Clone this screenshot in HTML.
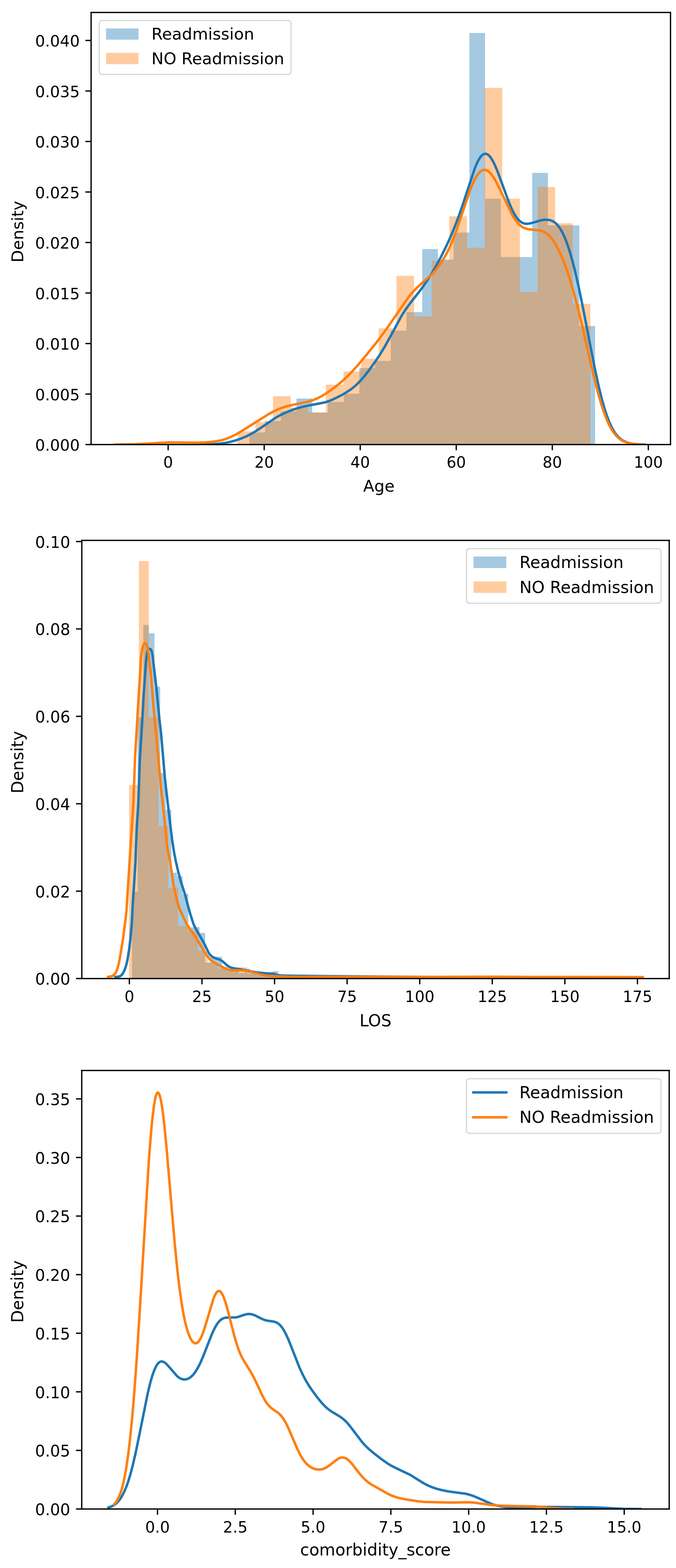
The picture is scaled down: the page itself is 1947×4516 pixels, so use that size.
<!DOCTYPE html>
<html><head><meta charset="utf-8"><title>Readmission distributions</title>
<style>html,body{margin:0;padding:0;background:#fff;overflow:hidden;width:1947px;height:4516px;}#page{position:relative;width:1947px;height:4516px;overflow:hidden;background:#fff;}#page svg{position:absolute;left:0;display:block;}#page svg *{stroke-linejoin:round;stroke-linecap:butt;}text{font-family:"DejaVu Sans","Liberation Sans",sans-serif;}</style></head><body><div id="page">
<svg style="top:0px" width="1947" height="1480" viewBox="0 0 416.65775 316.71981" version="1.1">
<defs>
</defs>
<g id="f1_figure_1">
<g id="f1_patch_1">
<path d="M 0 316.71981 
L 416.65775 316.71981 
L 416.65775 0 
L 0 0 
z
" style="fill: #ffffff"/>
</g>
<g id="f1_axes_1">
<g id="f1_patch_2">
<path d="M 56.153566 274.005436 
L 413.276552 274.005436 
L 413.276552 7.661195 
L 56.153566 7.661195 
z
" style="fill: #ffffff"/>
</g>
<g id="f1_patch_3">
<path d="M 153.694708 274.005436 
L 153.694708 266.53684 
L 163.380147 266.53684 
L 163.380147 259.453444 
L 173.065587 259.453444 
L 173.065587 253.547048 
L 182.751027 253.547048 
L 182.751027 245.607653 
L 192.436466 245.607653 
L 192.436466 254.231847 
L 202.121906 254.231847 
L 202.121906 247.726251 
L 211.807346 247.726251 
L 211.807346 242.697254 
L 221.492785 242.697254 
L 221.492785 226.839864 
L 231.178225 226.839864 
L 231.178225 222.431467 
L 240.863665 222.431467 
L 240.863665 203.792078 
L 250.549104 203.792078 
L 250.549104 192.385885 
L 260.234544 192.385885 
L 260.234544 153.480708 
L 269.919984 153.480708 
L 269.919984 159.964904 
L 279.605423 159.964904 
L 279.605423 143.337114 
L 289.290863 143.337114 
L 289.290863 20.308588 
L 298.976302 20.308588 
L 298.976302 122.450727 
L 308.661742 122.450727 
L 308.661742 158.424105 
L 318.347182 158.424105 
L 318.347182 158.424105 
L 328.032621 158.424105 
L 328.032621 106.571936 
L 337.718061 106.571936 
L 337.718061 138.907317 
L 347.403501 138.907317 
L 347.403501 138.907317 
L 357.08894 138.907317 
L 357.08894 200.945879 
L 366.77438 200.945879 
L 366.77438 274.005436 
z
" clip-path="url(#f1_p263602e1d2)" style="fill: #1f77b4; opacity: 0.4"/>
</g>
<g id="f1_patch_4">
<path d="M 146.525712 274.005436 
L 146.525712 265.830641 
L 157.393696 265.830641 
L 157.393696 260.031244 
L 168.261679 260.031244 
L 168.261679 244.195253 
L 179.129663 244.195253 
L 179.129663 251.235849 
L 189.997646 251.235849 
L 189.997646 254.231847 
L 200.865629 254.231847 
L 200.865629 237.069058 
L 211.733613 237.069058 
L 211.733613 228.979863 
L 222.601596 228.979863 
L 222.601596 221.126067 
L 233.46958 221.126067 
L 233.46958 202.401079 
L 244.337563 202.401079 
L 244.337563 170.044298 
L 255.205547 170.044298 
L 255.205547 195.082283 
L 266.07353 195.082283 
L 266.07353 160.649704 
L 276.941514 160.649704 
L 276.941514 133.30052 
L 287.809497 133.30052 
L 287.809497 152.688908 
L 298.677481 152.688908 
L 298.677481 54.141968 
L 309.545464 54.141968 
L 309.545464 122.450727 
L 320.413448 122.450727 
L 320.413448 179.973892 
L 331.281431 179.973892 
L 331.281431 115.260331 
L 342.149415 115.260331 
L 342.149415 137.601917 
L 353.017398 137.601917 
L 353.017398 187.249888 
L 363.885382 187.249888 
L 363.885382 274.005436 
z
" clip-path="url(#f1_p263602e1d2)" style="fill: #ff7f0e; opacity: 0.4"/>
</g>
<g id="f1_matplotlib.axis_1">
<g id="f1_xtick_1">
<g id="f1_line2d_1">
<defs>
<path id="f1_m1504cfccaf" d="M 0 0 
L 0 3.5 
" style="stroke: #000000; stroke-width: 0.8"/>
</defs>
<g>
<use href="#f1_m1504cfccaf" x="103.640138" y="274.005436" style="stroke: #000000; stroke-width: 0.8"/>
</g>
</g>
<g id="f1_text_1">
<text style="font-size: 9.40px; font-family: 'DejaVu Sans', 'Liberation Sans', sans-serif; text-anchor: middle" x="103.6401" y="288.2829">0</text>
</g>
</g>
<g id="f1_xtick_2">
<g id="f1_line2d_2">
<g>
<use href="#f1_m1504cfccaf" x="162.832502" y="274.005436" style="stroke: #000000; stroke-width: 0.8"/>
</g>
</g>
<g id="f1_text_2">
<text style="font-size: 9.40px; font-family: 'DejaVu Sans', 'Liberation Sans', sans-serif; text-anchor: middle" x="162.8325" y="288.2829">20</text>
</g>
</g>
<g id="f1_xtick_3">
<g id="f1_line2d_3">
<g>
<use href="#f1_m1504cfccaf" x="222.024867" y="274.005436" style="stroke: #000000; stroke-width: 0.8"/>
</g>
</g>
<g id="f1_text_3">
<text style="font-size: 9.40px; font-family: 'DejaVu Sans', 'Liberation Sans', sans-serif; text-anchor: middle" x="222.0249" y="288.2829">40</text>
</g>
</g>
<g id="f1_xtick_4">
<g id="f1_line2d_4">
<g>
<use href="#f1_m1504cfccaf" x="281.217231" y="274.005436" style="stroke: #000000; stroke-width: 0.8"/>
</g>
</g>
<g id="f1_text_4">
<text style="font-size: 9.40px; font-family: 'DejaVu Sans', 'Liberation Sans', sans-serif; text-anchor: middle" x="281.2172" y="288.2829">60</text>
</g>
</g>
<g id="f1_xtick_5">
<g id="f1_line2d_5">
<g>
<use href="#f1_m1504cfccaf" x="340.409596" y="274.005436" style="stroke: #000000; stroke-width: 0.8"/>
</g>
</g>
<g id="f1_text_5">
<text style="font-size: 9.40px; font-family: 'DejaVu Sans', 'Liberation Sans', sans-serif; text-anchor: middle" x="340.4096" y="288.2829">80</text>
</g>
</g>
<g id="f1_xtick_6">
<g id="f1_line2d_6">
<g>
<use href="#f1_m1504cfccaf" x="399.60196" y="274.005436" style="stroke: #000000; stroke-width: 0.8"/>
</g>
</g>
<g id="f1_text_6">
<text style="font-size: 9.40px; font-family: 'DejaVu Sans', 'Liberation Sans', sans-serif; text-anchor: middle" x="399.6020" y="288.2829">100</text>
</g>
</g>
<g id="f1_text_7">
<text style="font-size: 10px; font-family: 'DejaVu Sans', 'Liberation Sans', sans-serif; text-anchor: middle" x="233.5381" y="302.9882" transform="rotate(-0 233.5381 302.9882)">Age</text>
</g>
</g>
<g id="f1_matplotlib.axis_2">
<g id="f1_ytick_1">
<g id="f1_line2d_7">
<defs>
<path id="f1_m5d545ce8f8" d="M 0 0 
L -3.5 0 
" style="stroke: #000000; stroke-width: 0.8"/>
</defs>
<g>
<use href="#f1_m5d545ce8f8" x="56.153566" y="274.005436" style="stroke: #000000; stroke-width: 0.8"/>
</g>
</g>
<g id="f1_text_8">
<text style="font-size: 9.60px; font-family: 'DejaVu Sans', 'Liberation Sans', sans-serif; text-anchor: end" x="49.1536" y="277.8047">0.000</text>
</g>
</g>
<g id="f1_ytick_2">
<g id="f1_line2d_8">
<g>
<use href="#f1_m5d545ce8f8" x="56.153566" y="242.872467" style="stroke: #000000; stroke-width: 0.8"/>
</g>
</g>
<g id="f1_text_9">
<text style="font-size: 9.60px; font-family: 'DejaVu Sans', 'Liberation Sans', sans-serif; text-anchor: end" x="49.1536" y="246.6717">0.005</text>
</g>
</g>
<g id="f1_ytick_3">
<g id="f1_line2d_9">
<g>
<use href="#f1_m5d545ce8f8" x="56.153566" y="211.739498" style="stroke: #000000; stroke-width: 0.8"/>
</g>
</g>
<g id="f1_text_10">
<text style="font-size: 9.60px; font-family: 'DejaVu Sans', 'Liberation Sans', sans-serif; text-anchor: end" x="49.1536" y="215.5387">0.010</text>
</g>
</g>
<g id="f1_ytick_4">
<g id="f1_line2d_10">
<g>
<use href="#f1_m5d545ce8f8" x="56.153566" y="180.606529" style="stroke: #000000; stroke-width: 0.8"/>
</g>
</g>
<g id="f1_text_11">
<text style="font-size: 9.60px; font-family: 'DejaVu Sans', 'Liberation Sans', sans-serif; text-anchor: end" x="49.1536" y="184.4057">0.015</text>
</g>
</g>
<g id="f1_ytick_5">
<g id="f1_line2d_11">
<g>
<use href="#f1_m5d545ce8f8" x="56.153566" y="149.47356" style="stroke: #000000; stroke-width: 0.8"/>
</g>
</g>
<g id="f1_text_12">
<text style="font-size: 9.60px; font-family: 'DejaVu Sans', 'Liberation Sans', sans-serif; text-anchor: end" x="49.1536" y="153.2728">0.020</text>
</g>
</g>
<g id="f1_ytick_6">
<g id="f1_line2d_12">
<g>
<use href="#f1_m5d545ce8f8" x="56.153566" y="118.340591" style="stroke: #000000; stroke-width: 0.8"/>
</g>
</g>
<g id="f1_text_13">
<text style="font-size: 9.60px; font-family: 'DejaVu Sans', 'Liberation Sans', sans-serif; text-anchor: end" x="49.1536" y="122.1398">0.025</text>
</g>
</g>
<g id="f1_ytick_7">
<g id="f1_line2d_13">
<g>
<use href="#f1_m5d545ce8f8" x="56.153566" y="87.207623" style="stroke: #000000; stroke-width: 0.8"/>
</g>
</g>
<g id="f1_text_14">
<text style="font-size: 9.60px; font-family: 'DejaVu Sans', 'Liberation Sans', sans-serif; text-anchor: end" x="49.1536" y="91.0068">0.030</text>
</g>
</g>
<g id="f1_ytick_8">
<g id="f1_line2d_14">
<g>
<use href="#f1_m5d545ce8f8" x="56.153566" y="56.074654" style="stroke: #000000; stroke-width: 0.8"/>
</g>
</g>
<g id="f1_text_15">
<text style="font-size: 9.60px; font-family: 'DejaVu Sans', 'Liberation Sans', sans-serif; text-anchor: end" x="49.1536" y="59.8739">0.035</text>
</g>
</g>
<g id="f1_ytick_9">
<g id="f1_line2d_15">
<g>
<use href="#f1_m5d545ce8f8" x="56.153566" y="24.941685" style="stroke: #000000; stroke-width: 0.8"/>
</g>
</g>
<g id="f1_text_16">
<text style="font-size: 9.60px; font-family: 'DejaVu Sans', 'Liberation Sans', sans-serif; text-anchor: end" x="49.1536" y="28.7409">0.040</text>
</g>
</g>
<g id="f1_text_17">
<text style="font-size: 10px; font-family: 'DejaVu Sans', 'Liberation Sans', sans-serif; text-anchor: middle" x="14.4458" y="142.7593" transform="rotate(-90 14.4458 142.7593)">Density</text>
</g>
</g>
<g id="f1_line2d_16">
<path d="M 123.765542 273.972429 
L 130.698038 273.796151 
L 135.076456 273.471629 
L 138.725138 272.980028 
L 142.008952 272.319149 
L 145.292766 271.43028 
L 148.57658 270.302637 
L 151.67796 269.002088 
L 154.596906 267.546146 
L 157.698285 265.73853 
L 161.164533 263.440697 
L 169.92137 257.477392 
L 172.840316 255.833787 
L 175.941696 254.346038 
L 179.407944 252.941633 
L 183.056626 251.697578 
L 186.522874 250.734942 
L 190.171556 249.961334 
L 200.205432 248.032704 
L 202.941943 247.126802 
L 205.678455 245.983808 
L 209.144703 244.274717 
L 212.793385 242.236519 
L 215.712331 240.358017 
L 218.083974 238.556456 
L 220.273183 236.599436 
L 222.462393 234.333771 
L 224.834036 231.558571 
L 227.752982 227.792015 
L 231.21923 222.963517 
L 234.32061 218.294774 
L 237.057121 213.785585 
L 239.976067 208.534031 
L 247.638299 194.460732 
L 250.009943 190.752286 
L 252.381586 187.44868 
L 256.030268 182.815941 
L 260.043818 177.626352 
L 262.962764 173.45704 
L 265.88171 168.874055 
L 268.800655 163.874983 
L 271.902035 158.107754 
L 275.003415 151.850866 
L 277.922361 145.439401 
L 280.476438 139.283256 
L 282.848082 132.984595 
L 285.402159 125.531332 
L 292.699523 103.588209 
L 294.158996 100.196173 
L 295.253601 98.121278 
L 296.348205 96.511994 
L 297.260376 95.55719 
L 297.990112 95.057877 
L 298.719849 94.798319 
L 299.449585 94.779117 
L 300.179322 94.997534 
L 300.909058 95.447676 
L 301.821229 96.322583 
L 302.733399 97.522906 
L 303.828004 99.35313 
L 305.105042 101.954259 
L 306.746949 105.881737 
L 308.936159 111.773186 
L 313.679445 124.700098 
L 315.503786 128.921016 
L 316.963259 131.766103 
L 318.240298 133.811709 
L 319.517337 135.423346 
L 320.611941 136.462736 
L 321.706546 137.203175 
L 322.801151 137.67151 
L 323.895755 137.902823 
L 325.172794 137.927328 
L 326.632267 137.71516 
L 328.639042 137.176381 
L 333.564763 135.754277 
L 335.571538 135.445509 
L 337.213445 135.411249 
L 338.672918 135.604078 
L 339.949957 135.994067 
L 341.226995 136.638992 
L 342.3216 137.431965 
L 343.416205 138.479025 
L 344.510809 139.808644 
L 345.787848 141.749745 
L 347.064887 144.139659 
L 348.341925 146.998566 
L 349.801398 150.851553 
L 351.260871 155.326136 
L 352.902778 161.079483 
L 354.727119 168.308675 
L 356.733894 177.166156 
L 359.287972 189.537166 
L 363.483956 211.245919 
L 366.950204 228.691466 
L 369.139413 238.647459 
L 370.963754 246.013581 
L 372.605661 251.808457 
L 374.247568 256.771392 
L 375.707041 260.48921 
L 377.166514 263.585692 
L 378.443553 265.824317 
L 379.720592 267.666957 
L 380.99763 269.159645 
L 382.274669 270.349879 
L 383.734142 271.399407 
L 385.193615 272.1795 
L 386.835522 272.806655 
L 388.659863 273.273182 
L 391.031506 273.634624 
L 394.132886 273.862989 
L 397.234266 273.954681 
L 397.234266 273.954681 
" clip-path="url(#f1_p263602e1d2)" style="fill: none; stroke: #1f77b4; stroke-width: 1.5; stroke-linecap: square"/>
</g>
<g id="f1_line2d_17">
<path d="M 71.14353 273.990822 
L 81.564545 273.840477 
L 88.294784 273.522327 
L 103.926307 272.624421 
L 109.353919 272.674666 
L 120.643352 272.84973 
L 126.288068 272.668483 
L 130.630158 272.328843 
L 133.886725 271.874083 
L 136.709084 271.267582 
L 139.314337 270.485974 
L 141.919591 269.470584 
L 144.741949 268.117227 
L 147.998517 266.290357 
L 152.557711 263.450598 
L 165.58398 255.216756 
L 169.057652 253.343107 
L 171.88001 252.058052 
L 174.702368 251.013455 
L 177.741831 250.136999 
L 181.432607 249.323866 
L 189.899682 247.563408 
L 192.72204 246.682252 
L 195.327294 245.623393 
L 197.932548 244.309937 
L 200.754906 242.624083 
L 204.011473 240.409175 
L 207.702249 237.622285 
L 210.958817 234.903315 
L 213.998279 232.087313 
L 217.037742 228.97536 
L 220.728518 224.856328 
L 225.939026 218.66535 
L 231.800847 211.368892 
L 236.360041 205.332089 
L 240.702131 199.191839 
L 251.991564 182.885912 
L 254.379713 180.028675 
L 256.767863 177.531695 
L 259.373116 175.138785 
L 265.886251 169.334077 
L 268.057296 167.011744 
L 270.011236 164.617606 
L 271.965176 161.875533 
L 273.919117 158.723412 
L 275.655953 155.522133 
L 277.392789 151.897799 
L 279.346729 147.280077 
L 281.517774 141.495114 
L 284.123027 133.837243 
L 289.333535 118.313337 
L 291.070371 113.884375 
L 292.590102 110.601486 
L 293.892729 108.314155 
L 294.978252 106.816441 
L 296.063774 105.708357 
L 296.932192 105.107743 
L 297.80061 104.761263 
L 298.669028 104.665517 
L 299.537446 104.814216 
L 300.405864 105.198542 
L 301.274282 105.807463 
L 302.359804 106.86455 
L 303.445326 108.223222 
L 304.747953 110.205579 
L 306.267685 112.923932 
L 308.221625 116.890374 
L 315.386073 131.942212 
L 317.122909 134.808933 
L 318.64264 136.877191 
L 319.945267 138.305257 
L 321.247894 139.420993 
L 322.550521 140.246623 
L 323.853148 140.817791 
L 325.372879 141.224178 
L 327.109715 141.44964 
L 332.754432 141.987889 
L 334.274163 142.458303 
L 335.57679 143.07228 
L 336.879417 143.915251 
L 338.182044 145.013391 
L 339.484671 146.386503 
L 341.004402 148.35374 
L 342.524133 150.725112 
L 344.043865 153.503613 
L 345.780701 157.173775 
L 347.517537 161.363763 
L 349.471477 166.689639 
L 351.425417 172.657491 
L 353.596462 180.032735 
L 355.984611 189.013211 
L 358.589865 199.711398 
L 362.71485 217.773634 
L 366.405627 233.623685 
L 368.793776 242.906916 
L 370.747716 249.622566 
L 372.484552 254.816268 
L 374.004283 258.729851 
L 375.524015 262.057803 
L 377.043746 264.826744 
L 378.346373 266.788388 
L 379.649 268.406779 
L 380.951627 269.720881 
L 382.471358 270.92331 
L 383.99109 271.829472 
L 385.727926 272.577118 
L 387.681866 273.14187 
L 389.852911 273.5296 
L 392.675269 273.798589 
L 396.58315 273.946922 
L 396.58315 273.946922 
" clip-path="url(#f1_p263602e1d2)" style="fill: none; stroke: #ff7f0e; stroke-width: 1.5; stroke-linecap: square"/>
</g>
<g id="f1_patch_5">
<path d="M 56.153566 274.005436 
L 56.153566 7.661195 
" style="fill: none; stroke: #000000; stroke-width: 0.8; stroke-linejoin: miter; stroke-linecap: square"/>
</g>
<g id="f1_patch_6">
<path d="M 413.276552 274.005436 
L 413.276552 7.661195 
" style="fill: none; stroke: #000000; stroke-width: 0.8; stroke-linejoin: miter; stroke-linecap: square"/>
</g>
<g id="f1_patch_7">
<path d="M 56.153566 274.005436 
L 413.276552 274.005436 
" style="fill: none; stroke: #000000; stroke-width: 0.8; stroke-linejoin: miter; stroke-linecap: square"/>
</g>
<g id="f1_patch_8">
<path d="M 56.153566 7.661195 
L 413.276552 7.661195 
" style="fill: none; stroke: #000000; stroke-width: 0.8; stroke-linejoin: miter; stroke-linecap: square"/>
</g>
<g id="f1_legend_1">
<g id="f1_patch_9">
<path d="M 63.153566 45.867445 
L 177.404816 45.867445 
Q 179.404816 45.867445 179.404816 43.867445 
L 179.404816 14.661195 
Q 179.404816 12.661195 177.404816 12.661195 
L 63.153566 12.661195 
Q 61.153566 12.661195 61.153566 14.661195 
L 61.153566 43.867445 
Q 61.153566 45.867445 63.153566 45.867445 
z
" style="fill: #ffffff; opacity: 0.8; stroke: #cccccc; stroke-width: 0.7; stroke-linejoin: miter"/>
</g>
<g id="f1_patch_10">
<path d="M 65.363566 24.469633 
L 85.363566 24.469633 
L 85.363566 17.469633 
L 65.363566 17.469633 
z
" style="fill: #1f77b4; opacity: 0.4"/>
</g>
<g id="f1_text_18">
<text style="font-size: 10px; font-family: 'DejaVu Sans', 'Liberation Sans', sans-serif; text-anchor: start" x="93.363566" y="24.469633" transform="rotate(-0 93.363566 24.469633)">Readmission</text>
</g>
<g id="f1_patch_11">
<path d="M 65.363566 39.577758 
L 85.363566 39.577758 
L 85.363566 32.577758 
L 65.363566 32.577758 
z
" style="fill: #ff7f0e; opacity: 0.4"/>
</g>
<g id="f1_text_19">
<text style="font-size: 10px; font-family: 'DejaVu Sans', 'Liberation Sans', sans-serif; text-anchor: start" x="93.363566" y="39.577758" transform="rotate(-0 93.363566 39.577758)">NO Readmission</text>
</g>
</g>
</g>
</g>
<defs>
<clipPath id="f1_p263602e1d2">
<rect x="56.153566" y="7.661195" width="357.122986" height="266.34424"/>
</clipPath>
</defs>
</svg>

<svg style="top:1480px" width="1947" height="1530" viewBox="0 0 410.967579 322.948328" version="1.1">
<defs>
</defs>
<g id="f2_figure_1">
<g id="f2_patch_1">
<path d="M 0 322.948328 
L 410.967579 322.948328 
L 410.967579 0 
L 0 0 
z
" style="fill: #ffffff"/>
</g>
<g id="f2_axes_1">
<g id="f2_patch_2">
<path d="M 49.729821 282.484802 
L 406.85157 282.484802 
L 406.85157 16.126309 
L 49.729821 16.126309 
z
" style="fill: #ffffff"/>
</g>
<g id="f2_patch_3">
<path d="M 80.251604 282.484802 
L 80.251604 229.652145 
L 83.671057 229.652145 
L 83.671057 123.69132 
L 87.09051 123.69132 
L 87.09051 67.565856 
L 90.509963 67.565856 
L 90.509963 72.610605 
L 93.929416 72.610605 
L 93.929416 105.053191 
L 97.348869 105.053191 
L 97.348869 157.569233 
L 100.768322 157.569233 
L 100.768322 179.816785 
L 104.187774 179.816785 
L 104.187774 218.085106 
L 107.607227 218.085106 
L 107.607227 220.259203 
L 111.02668 220.259203 
L 111.02668 231.024147 
L 114.446133 231.024147 
L 114.446133 251.39311 
L 117.865586 251.39311 
L 117.865586 251.182033 
L 121.285039 251.182033 
L 121.285039 254.770348 
L 124.704492 254.770348 
L 124.704492 272.711922 
L 128.123945 272.711922 
L 128.123945 269.229146 
L 131.543398 269.229146 
L 131.543398 269.229146 
L 134.96285 269.229146 
L 134.96285 275.455927 
L 138.382303 275.455927 
L 138.382303 276.511314 
L 141.801756 276.511314 
L 141.801756 277.5667 
L 145.221209 277.5667 
L 145.221209 279.213104 
L 148.640662 279.213104 
L 148.640662 276.511314 
L 152.060115 276.511314 
L 152.060115 278.622087 
L 155.479568 278.622087 
L 155.479568 279.677474 
L 158.899021 279.677474 
L 158.899021 280.099629 
L 162.318473 280.099629 
L 162.318473 279.888551 
L 165.737926 279.888551 
L 165.737926 277.988855 
L 169.157379 277.988855 
L 169.157379 280.310706 
L 172.576832 280.310706 
L 172.576832 280.732861 
L 175.996285 280.732861 
L 175.996285 280.943938 
L 179.415738 280.943938 
L 179.415738 281.155015 
L 182.835191 281.155015 
L 182.835191 281.155015 
L 186.254644 281.155015 
L 186.254644 281.366093 
L 189.674097 281.366093 
L 189.674097 281.366093 
L 193.093549 281.366093 
L 193.093549 281.366093 
L 196.513002 281.366093 
L 196.513002 281.366093 
L 199.932455 281.366093 
L 199.932455 281.57717 
L 203.351908 281.57717 
L 203.351908 281.57717 
L 206.771361 281.57717 
L 206.771361 281.57717 
L 210.190814 281.57717 
L 210.190814 281.57717 
L 213.610267 281.57717 
L 213.610267 281.57717 
L 217.02972 281.57717 
L 217.02972 281.57717 
L 220.449173 281.57717 
L 220.449173 281.57717 
L 223.868625 281.57717 
L 223.868625 281.57717 
L 227.288078 281.57717 
L 227.288078 281.57717 
L 230.707531 281.57717 
L 230.707531 281.57717 
L 234.126984 281.57717 
L 234.126984 281.788247 
L 237.546437 281.788247 
L 237.546437 281.788247 
L 240.96589 281.788247 
L 240.96589 281.788247 
L 244.385343 281.788247 
L 244.385343 281.788247 
L 247.804796 281.788247 
L 247.804796 281.788247 
L 251.224249 281.788247 
L 251.224249 282.484802 
z
" clip-path="url(#f2_pecd5fe9110)" style="fill: #1f77b4; opacity: 0.4"/>
</g>
<g id="f2_patch_4">
<path d="M 78.436339 282.484802 
L 78.436339 164.809186 
L 84.409828 164.809186 
L 84.409828 28.68541 
L 90.383316 28.68541 
L 90.383316 123.69132 
L 96.356805 123.69132 
L 96.356805 189.885174 
L 102.330294 189.885174 
L 102.330294 227.372509 
L 108.303783 227.372509 
L 108.303783 250.485478 
L 114.277271 250.485478 
L 114.277271 253.335022 
L 120.25076 253.335022 
L 120.25076 265.493077 
L 126.224249 265.493077 
L 126.224249 272.711922 
L 132.197737 272.711922 
L 132.197737 276.511314 
L 138.171226 276.511314 
L 138.171226 277.988855 
L 144.144715 277.988855 
L 144.144715 275.688112 
L 150.118203 275.688112 
L 150.118203 279.677474 
L 156.091692 279.677474 
L 156.091692 280.817291 
L 162.065181 280.817291 
L 162.065181 279.888551 
L 168.038669 279.888551 
L 168.038669 281.155015 
L 174.012158 281.155015 
L 174.012158 281.366093 
L 179.985647 281.366093 
L 179.985647 281.366093 
L 185.959135 281.366093 
L 185.959135 281.57717 
L 191.932624 281.57717 
L 191.932624 281.57717 
L 197.906113 281.57717 
L 197.906113 281.57717 
L 203.879601 281.57717 
L 203.879601 281.57717 
L 209.85309 281.57717 
L 209.85309 281.57717 
L 215.826579 281.57717 
L 215.826579 281.57717 
L 221.800068 281.57717 
L 221.800068 281.57717 
L 227.773556 281.57717 
L 227.773556 281.57717 
L 233.747045 281.57717 
L 233.747045 281.57717 
L 239.720534 281.57717 
L 239.720534 281.57717 
L 245.694022 281.57717 
L 245.694022 281.57717 
L 251.667511 281.57717 
L 251.667511 281.788247 
L 257.641 281.788247 
L 257.641 281.788247 
L 263.614488 281.788247 
L 263.614488 281.788247 
L 269.587977 281.788247 
L 269.587977 281.788247 
L 275.561466 281.788247 
L 275.561466 281.788247 
L 281.534954 281.788247 
L 281.534954 281.788247 
L 287.508443 281.788247 
L 287.508443 281.788247 
L 293.481932 281.788247 
L 293.481932 281.788247 
L 299.45542 281.788247 
L 299.45542 281.788247 
L 305.428909 281.788247 
L 305.428909 281.788247 
L 311.402398 281.788247 
L 311.402398 281.788247 
L 317.375887 281.788247 
L 317.375887 281.788247 
L 323.349375 281.788247 
L 323.349375 281.788247 
L 329.322864 281.788247 
L 329.322864 281.788247 
L 335.296353 281.788247 
L 335.296353 281.788247 
L 341.269841 281.788247 
L 341.269841 281.788247 
L 347.24333 281.788247 
L 347.24333 281.788247 
L 353.216819 281.788247 
L 353.216819 281.788247 
L 359.190307 281.788247 
L 359.190307 281.788247 
L 365.163796 281.788247 
L 365.163796 281.788247 
L 371.137285 281.788247 
L 371.137285 281.788247 
L 377.110773 281.788247 
L 377.110773 282.484802 
z
" clip-path="url(#f2_pecd5fe9110)" style="fill: #ff7f0e; opacity: 0.4"/>
</g>
<g id="f2_matplotlib.axis_1">
<g id="f2_xtick_1">
<g id="f2_line2d_1">
<defs>
<path id="f2_m1504cfccaf" d="M 0 0 
L 0 3.5 
" style="stroke: #000000; stroke-width: 0.8"/>
</defs>
<g>
<use href="#f2_m1504cfccaf" x="78.647416" y="282.484802" style="stroke: #000000; stroke-width: 0.8"/>
</g>
</g>
<g id="f2_text_1">
<text style="font-size: 9.40px; font-family: 'DejaVu Sans', 'Liberation Sans', sans-serif; text-anchor: middle" x="78.6474" y="296.7666">0</text>
</g>
</g>
<g id="f2_xtick_2">
<g id="f2_line2d_2">
<g>
<use href="#f2_m1504cfccaf" x="122.774189" y="282.484802" style="stroke: #000000; stroke-width: 0.8"/>
</g>
</g>
<g id="f2_text_2">
<text style="font-size: 9.40px; font-family: 'DejaVu Sans', 'Liberation Sans', sans-serif; text-anchor: middle" x="122.7742" y="296.7666">25</text>
</g>
</g>
<g id="f2_xtick_3">
<g id="f2_line2d_3">
<g>
<use href="#f2_m1504cfccaf" x="166.900963" y="282.484802" style="stroke: #000000; stroke-width: 0.8"/>
</g>
</g>
<g id="f2_text_3">
<text style="font-size: 9.40px; font-family: 'DejaVu Sans', 'Liberation Sans', sans-serif; text-anchor: middle" x="166.9010" y="296.7666">50</text>
</g>
</g>
<g id="f2_xtick_4">
<g id="f2_line2d_4">
<g>
<use href="#f2_m1504cfccaf" x="211.027736" y="282.484802" style="stroke: #000000; stroke-width: 0.8"/>
</g>
</g>
<g id="f2_text_4">
<text style="font-size: 9.40px; font-family: 'DejaVu Sans', 'Liberation Sans', sans-serif; text-anchor: middle" x="211.0277" y="296.7666">75</text>
</g>
</g>
<g id="f2_xtick_5">
<g id="f2_line2d_5">
<g>
<use href="#f2_m1504cfccaf" x="255.154509" y="282.484802" style="stroke: #000000; stroke-width: 0.8"/>
</g>
</g>
<g id="f2_text_5">
<text style="font-size: 9.40px; font-family: 'DejaVu Sans', 'Liberation Sans', sans-serif; text-anchor: middle" x="255.1545" y="296.7666">100</text>
</g>
</g>
<g id="f2_xtick_6">
<g id="f2_line2d_6">
<g>
<use href="#f2_m1504cfccaf" x="299.281282" y="282.484802" style="stroke: #000000; stroke-width: 0.8"/>
</g>
</g>
<g id="f2_text_6">
<text style="font-size: 9.40px; font-family: 'DejaVu Sans', 'Liberation Sans', sans-serif; text-anchor: middle" x="299.2813" y="296.7666">125</text>
</g>
</g>
<g id="f2_xtick_7">
<g id="f2_line2d_7">
<g>
<use href="#f2_m1504cfccaf" x="343.408055" y="282.484802" style="stroke: #000000; stroke-width: 0.8"/>
</g>
</g>
<g id="f2_text_7">
<text style="font-size: 9.40px; font-family: 'DejaVu Sans', 'Liberation Sans', sans-serif; text-anchor: middle" x="343.4081" y="296.7666">150</text>
</g>
</g>
<g id="f2_xtick_8">
<g id="f2_line2d_8">
<g>
<use href="#f2_m1504cfccaf" x="387.534828" y="282.484802" style="stroke: #000000; stroke-width: 0.8"/>
</g>
</g>
<g id="f2_text_8">
<text style="font-size: 9.40px; font-family: 'DejaVu Sans', 'Liberation Sans', sans-serif; text-anchor: middle" x="387.5348" y="296.7666">175</text>
</g>
</g>
<g id="f2_text_9">
<text style="font-size: 10px; font-family: 'DejaVu Sans', 'Liberation Sans', sans-serif; text-anchor: middle" x="228.2907" y="311.6057" transform="rotate(-0 228.2907 311.6057)">LOS</text>
</g>
</g>
<g id="f2_matplotlib.axis_2">
<g id="f2_ytick_1">
<g id="f2_line2d_9">
<defs>
<path id="f2_m5d545ce8f8" d="M 0 0 
L -3.5 0 
" style="stroke: #000000; stroke-width: 0.8"/>
</defs>
<g>
<use href="#f2_m5d545ce8f8" x="49.729821" y="282.484802" style="stroke: #000000; stroke-width: 0.8"/>
</g>
</g>
<g id="f2_text_10">
<text style="font-size: 9.60px; font-family: 'DejaVu Sans', 'Liberation Sans', sans-serif; text-anchor: end" x="42.7298" y="286.2840">0.00</text>
</g>
</g>
<g id="f2_ytick_2">
<g id="f2_line2d_10">
<g>
<use href="#f2_m5d545ce8f8" x="49.729821" y="229.352415" style="stroke: #000000; stroke-width: 0.8"/>
</g>
</g>
<g id="f2_text_11">
<text style="font-size: 9.60px; font-family: 'DejaVu Sans', 'Liberation Sans', sans-serif; text-anchor: end" x="42.7298" y="233.1516">0.02</text>
</g>
</g>
<g id="f2_ytick_3">
<g id="f2_line2d_11">
<g>
<use href="#f2_m5d545ce8f8" x="49.729821" y="176.220027" style="stroke: #000000; stroke-width: 0.8"/>
</g>
</g>
<g id="f2_text_12">
<text style="font-size: 9.60px; font-family: 'DejaVu Sans', 'Liberation Sans', sans-serif; text-anchor: end" x="42.7298" y="180.0192">0.04</text>
</g>
</g>
<g id="f2_ytick_4">
<g id="f2_line2d_12">
<g>
<use href="#f2_m5d545ce8f8" x="49.729821" y="123.087639" style="stroke: #000000; stroke-width: 0.8"/>
</g>
</g>
<g id="f2_text_13">
<text style="font-size: 9.60px; font-family: 'DejaVu Sans', 'Liberation Sans', sans-serif; text-anchor: end" x="42.7298" y="126.8869">0.06</text>
</g>
</g>
<g id="f2_ytick_5">
<g id="f2_line2d_13">
<g>
<use href="#f2_m5d545ce8f8" x="49.729821" y="69.955252" style="stroke: #000000; stroke-width: 0.8"/>
</g>
</g>
<g id="f2_text_14">
<text style="font-size: 9.60px; font-family: 'DejaVu Sans', 'Liberation Sans', sans-serif; text-anchor: end" x="42.7298" y="73.7545">0.08</text>
</g>
</g>
<g id="f2_ytick_6">
<g id="f2_line2d_14">
<g>
<use href="#f2_m5d545ce8f8" x="49.729821" y="16.822864" style="stroke: #000000; stroke-width: 0.8"/>
</g>
</g>
<g id="f2_text_15">
<text style="font-size: 9.60px; font-family: 'DejaVu Sans', 'Liberation Sans', sans-serif; text-anchor: end" x="42.7298" y="20.6221">0.10</text>
</g>
</g>
<g id="f2_text_16">
<text style="font-size: 10px; font-family: 'DejaVu Sans', 'Liberation Sans', sans-serif; text-anchor: middle" x="14.1734" y="150.9942" transform="rotate(-90 14.1734 150.9942)">Density</text>
</g>
</g>
<g id="f2_line2d_15">
<path d="M 70.11549 281.552221 
L 72.371182 281.284736 
L 73.136449 280.975153 
L 73.794606 280.47465 
L 74.583965 279.497998 
L 75.411635 278.030905 
L 76.194449 276.073178 
L 76.926933 273.649723 
L 77.54436 270.760882 
L 78.488795 264.927131 
L 79.241425 258.640027 
L 80.152577 248.549555 
L 80.38025 243.912042 
L 80.682802 237.587208 
L 81.572655 224.107746 
L 82.383948 211.046378 
L 82.719915 201.342749 
L 83.225628 189.111463 
L 84.053049 176.900189 
L 85.04473 149.05814 
L 86.788147 120.406052 
L 87.225549 111.552021 
L 88.73415 90.075836 
L 89.337816 85.046624 
L 89.677636 83.403509 
L 90.049708 82.678803 
L 90.642751 82.195397 
L 90.992615 82.11557 
L 91.33179 82.175798 
L 91.62596 82.372794 
L 92.04613 83.034718 
L 92.416944 84.234956 
L 92.838011 86.731012 
L 93.207315 90.087322 
L 93.748499 94.698973 
L 95.003078 105.177706 
L 96.21659 117.783892 
L 96.880132 124.504898 
L 97.950485 133.730151 
L 98.629173 141.722172 
L 100.203876 160.22982 
L 101.188152 169.040015 
L 103.640866 190.004672 
L 104.728125 198.80258 
L 105.849433 205.890739 
L 106.902686 211.276322 
L 108.417239 217.858445 
L 109.962521 223.562549 
L 111.255496 227.580385 
L 112.546147 231.598647 
L 114.027442 237.319931 
L 115.474637 242.612849 
L 117.658677 249.4433 
L 118.751951 251.726252 
L 122.718802 258.693702 
L 124.180753 261.260804 
L 125.639172 264.306113 
L 126.915517 266.964969 
L 127.65153 267.990193 
L 128.547631 268.872863 
L 129.604753 269.556215 
L 130.76521 270.048758 
L 133.553991 271.008803 
L 135.030355 271.815762 
L 136.008287 272.610451 
L 138.189762 274.595116 
L 139.241568 275.293217 
L 140.392952 275.801848 
L 142.434401 276.325987 
L 144.520547 276.6292 
L 146.186225 276.887092 
L 151.150373 277.890142 
L 156.136384 278.769894 
L 163.278801 279.439401 
L 166.223634 279.539615 
L 167.424411 279.897967 
L 168.611568 280.314882 
L 169.855335 280.525904 
L 172.803426 280.714609 
L 177.868094 280.804601 
L 197.708306 280.989428 
L 237.810795 281.400431 
L 260.44823 281.490839 
L 260.44823 281.490839 
" clip-path="url(#f2_pecd5fe9110)" style="fill: none; stroke: #1f77b4; stroke-width: 1.5; stroke-linecap: square"/>
</g>
<g id="f2_line2d_16">
<path d="M 65.682877 281.467902 
L 67.51612 281.218755 
L 68.289675 280.914445 
L 69.31018 280.188418 
L 70.147219 279.250141 
L 70.778112 278.161336 
L 71.356821 276.579324 
L 72.219743 273.31507 
L 72.943466 269.585877 
L 74.661571 259.173558 
L 76.474291 245.361111 
L 76.953778 240.318658 
L 78.719292 212.091877 
L 79.3218 202.824161 
L 81.113018 175.869049 
L 82.054409 148.868983 
L 84.159021 113.048146 
L 85.434688 92.826123 
L 85.675812 87.767219 
L 86.103547 84.417765 
L 86.63321 81.5119 
L 87.092326 79.891597 
L 87.445231 79.140212 
L 87.928352 78.596454 
L 88.209213 78.525482 
L 88.487609 78.630541 
L 88.970163 79.204419 
L 89.511916 80.335331 
L 89.844216 81.551313 
L 90.114299 83.642719 
L 90.961505 91.187194 
L 91.46057 94.526246 
L 91.846665 99.153469 
L 92.745458 110.515973 
L 94.468453 129.856931 
L 95.135717 136.153513 
L 97.939579 167.26453 
L 99.223084 178.589726 
L 101.641984 202.10552 
L 102.194986 205.435828 
L 103.453776 211.637574 
L 105.380418 225.004083 
L 106.612291 230.784096 
L 108.226486 237.342134 
L 109.002329 239.751313 
L 109.876265 241.670613 
L 112.146822 246.666533 
L 113.276338 248.930845 
L 116.002747 253.197311 
L 117.464651 255.264453 
L 119.413059 258.018425 
L 121.557523 261.641002 
L 122.443382 263.075555 
L 124.980133 267.453511 
L 127.562223 270.78204 
L 128.860965 271.853732 
L 130.639282 272.987112 
L 134.690212 275.250679 
L 138.12761 276.860733 
L 139.341002 277.204998 
L 141.013385 277.412119 
L 143.966691 277.480178 
L 147.763898 277.570642 
L 150.279615 277.847156 
L 152.758926 278.360479 
L 155.597975 279.176352 
L 159.252928 280.211291 
L 161.320128 280.628599 
L 163.839072 280.884087 
L 169.318389 281.187361 
L 175.647782 281.365713 
L 189.578766 281.407231 
L 254.168359 281.49276 
L 300.604863 281.385011 
L 306.51455 281.412435 
L 316.645686 281.50303 
L 390.786078 281.618811 
L 390.786078 281.618811 
" clip-path="url(#f2_pecd5fe9110)" style="fill: none; stroke: #ff7f0e; stroke-width: 1.5; stroke-linecap: square"/>
</g>
<g id="f2_patch_5">
<path d="M 49.729821 282.484802 
L 49.729821 16.126309 
" style="fill: none; stroke: #000000; stroke-width: 0.8; stroke-linejoin: miter; stroke-linecap: square"/>
</g>
<g id="f2_patch_6">
<path d="M 406.85157 282.484802 
L 406.85157 16.126309 
" style="fill: none; stroke: #000000; stroke-width: 0.8; stroke-linejoin: miter; stroke-linecap: square"/>
</g>
<g id="f2_patch_7">
<path d="M 49.729821 282.484802 
L 406.85157 282.484802 
" style="fill: none; stroke: #000000; stroke-width: 0.8; stroke-linejoin: miter; stroke-linecap: square"/>
</g>
<g id="f2_patch_8">
<path d="M 49.729821 16.126309 
L 406.85157 16.126309 
" style="fill: none; stroke: #000000; stroke-width: 0.8; stroke-linejoin: miter; stroke-linecap: square"/>
</g>
<g id="f2_legend_1">
<g id="f2_patch_9">
<path d="M 285.60032 54.332559 
L 399.85157 54.332559 
Q 401.85157 54.332559 401.85157 52.332559 
L 401.85157 23.126309 
Q 401.85157 21.126309 399.85157 21.126309 
L 285.60032 21.126309 
Q 283.60032 21.126309 283.60032 23.126309 
L 283.60032 52.332559 
Q 283.60032 54.332559 285.60032 54.332559 
z
" style="fill: #ffffff; opacity: 0.8; stroke: #cccccc; stroke-width: 0.7; stroke-linejoin: miter"/>
</g>
<g id="f2_patch_10">
<path d="M 287.81032 32.934746 
L 307.81032 32.934746 
L 307.81032 25.934746 
L 287.81032 25.934746 
z
" style="fill: #1f77b4; opacity: 0.4"/>
</g>
<g id="f2_text_17">
<text style="font-size: 10px; font-family: 'DejaVu Sans', 'Liberation Sans', sans-serif; text-anchor: start" x="315.81032" y="32.934746" transform="rotate(-0 315.81032 32.934746)">Readmission</text>
</g>
<g id="f2_patch_11">
<path d="M 287.81032 48.042871 
L 307.81032 48.042871 
L 307.81032 41.042871 
L 287.81032 41.042871 
z
" style="fill: #ff7f0e; opacity: 0.4"/>
</g>
<g id="f2_text_18">
<text style="font-size: 10px; font-family: 'DejaVu Sans', 'Liberation Sans', sans-serif; text-anchor: start" x="315.81032" y="48.042871" transform="rotate(-0 315.81032 48.042871)">NO Readmission</text>
</g>
</g>
</g>
</g>
<defs>
<clipPath id="f2_pecd5fe9110">
<rect x="49.729821" y="16.126309" width="357.121749" height="266.358494"/>
</clipPath>
</defs>
</svg>

<svg style="top:3010px" width="1947" height="1506" viewBox="0 0 410.967579 317.882472" version="1.1">
<defs>
</defs>
<g id="f3_figure_1">
<g id="f3_patch_1">
<path d="M 0 317.882472 
L 410.967579 317.882472 
L 410.967579 0 
L 0 0 
z
" style="fill: #ffffff"/>
</g>
<g id="f3_axes_1">
<g id="f3_patch_2">
<path d="M 49.687606 282.020432 
L 406.830463 282.020432 
L 406.830463 15.450861 
L 49.687606 15.450861 
z
" style="fill: #ffffff"/>
</g>
<g id="f3_matplotlib.axis_1">
<g id="f3_xtick_1">
<g id="f3_line2d_1">
<defs>
<path id="f3_m1504cfccaf" d="M 0 0 
L 0 3.5 
" style="stroke: #000000; stroke-width: 0.8"/>
</defs>
<g>
<use href="#f3_m1504cfccaf" x="95.744681" y="282.020432" style="stroke: #000000; stroke-width: 0.8"/>
</g>
</g>
<g id="f3_text_1">
<text style="font-size: 9.40px; font-family: 'DejaVu Sans', 'Liberation Sans', sans-serif; text-anchor: middle" x="95.7447" y="296.3023">0.0</text>
</g>
</g>
<g id="f3_xtick_2">
<g id="f3_line2d_2">
<g>
<use href="#f3_m1504cfccaf" x="143.036559" y="282.020432" style="stroke: #000000; stroke-width: 0.8"/>
</g>
</g>
<g id="f3_text_2">
<text style="font-size: 9.40px; font-family: 'DejaVu Sans', 'Liberation Sans', sans-serif; text-anchor: middle" x="143.0366" y="296.3023">2.5</text>
</g>
</g>
<g id="f3_xtick_3">
<g id="f3_line2d_3">
<g>
<use href="#f3_m1504cfccaf" x="190.328436" y="282.020432" style="stroke: #000000; stroke-width: 0.8"/>
</g>
</g>
<g id="f3_text_3">
<text style="font-size: 9.40px; font-family: 'DejaVu Sans', 'Liberation Sans', sans-serif; text-anchor: middle" x="190.3284" y="296.3023">5.0</text>
</g>
</g>
<g id="f3_xtick_4">
<g id="f3_line2d_4">
<g>
<use href="#f3_m1504cfccaf" x="237.620314" y="282.020432" style="stroke: #000000; stroke-width: 0.8"/>
</g>
</g>
<g id="f3_text_4">
<text style="font-size: 9.40px; font-family: 'DejaVu Sans', 'Liberation Sans', sans-serif; text-anchor: middle" x="237.6203" y="296.3023">7.5</text>
</g>
</g>
<g id="f3_xtick_5">
<g id="f3_line2d_5">
<g>
<use href="#f3_m1504cfccaf" x="284.912192" y="282.020432" style="stroke: #000000; stroke-width: 0.8"/>
</g>
</g>
<g id="f3_text_5">
<text style="font-size: 9.40px; font-family: 'DejaVu Sans', 'Liberation Sans', sans-serif; text-anchor: middle" x="284.9122" y="296.3023">10.0</text>
</g>
</g>
<g id="f3_xtick_6">
<g id="f3_line2d_6">
<g>
<use href="#f3_m1504cfccaf" x="332.20407" y="282.020432" style="stroke: #000000; stroke-width: 0.8"/>
</g>
</g>
<g id="f3_text_6">
<text style="font-size: 9.40px; font-family: 'DejaVu Sans', 'Liberation Sans', sans-serif; text-anchor: middle" x="332.2041" y="296.3023">12.5</text>
</g>
</g>
<g id="f3_xtick_7">
<g id="f3_line2d_7">
<g>
<use href="#f3_m1504cfccaf" x="379.495947" y="282.020432" style="stroke: #000000; stroke-width: 0.8"/>
</g>
</g>
<g id="f3_text_7">
<text style="font-size: 9.40px; font-family: 'DejaVu Sans', 'Liberation Sans', sans-serif; text-anchor: middle" x="379.4959" y="296.3023">15.0</text>
</g>
</g>
<g id="f3_text_8">
<text style="font-size: 10px; font-family: 'DejaVu Sans', 'Liberation Sans', sans-serif; text-anchor: middle" x="228.259034" y="310.296995" transform="rotate(-0 228.259034 310.296995)">comorbidity_score</text>
</g>
</g>
<g id="f3_matplotlib.axis_2">
<g id="f3_ytick_1">
<g id="f3_line2d_8">
<defs>
<path id="f3_m5d545ce8f8" d="M 0 0 
L -3.5 0 
" style="stroke: #000000; stroke-width: 0.8"/>
</defs>
<g>
<use href="#f3_m5d545ce8f8" x="49.687606" y="282.020432" style="stroke: #000000; stroke-width: 0.8"/>
</g>
</g>
<g id="f3_text_9">
<text style="font-size: 9.60px; font-family: 'DejaVu Sans', 'Liberation Sans', sans-serif; text-anchor: end" x="42.6876" y="285.8197">0.00</text>
</g>
</g>
<g id="f3_ytick_2">
<g id="f3_line2d_9">
<g>
<use href="#f3_m5d545ce8f8" x="49.687606" y="246.402609" style="stroke: #000000; stroke-width: 0.8"/>
</g>
</g>
<g id="f3_text_10">
<text style="font-size: 9.60px; font-family: 'DejaVu Sans', 'Liberation Sans', sans-serif; text-anchor: end" x="42.6876" y="250.2018">0.05</text>
</g>
</g>
<g id="f3_ytick_3">
<g id="f3_line2d_10">
<g>
<use href="#f3_m5d545ce8f8" x="49.687606" y="210.784786" style="stroke: #000000; stroke-width: 0.8"/>
</g>
</g>
<g id="f3_text_11">
<text style="font-size: 9.60px; font-family: 'DejaVu Sans', 'Liberation Sans', sans-serif; text-anchor: end" x="42.6876" y="214.5840">0.10</text>
</g>
</g>
<g id="f3_ytick_4">
<g id="f3_line2d_11">
<g>
<use href="#f3_m5d545ce8f8" x="49.687606" y="175.166962" style="stroke: #000000; stroke-width: 0.8"/>
</g>
</g>
<g id="f3_text_12">
<text style="font-size: 9.60px; font-family: 'DejaVu Sans', 'Liberation Sans', sans-serif; text-anchor: end" x="42.6876" y="178.9662">0.15</text>
</g>
</g>
<g id="f3_ytick_5">
<g id="f3_line2d_12">
<g>
<use href="#f3_m5d545ce8f8" x="49.687606" y="139.549139" style="stroke: #000000; stroke-width: 0.8"/>
</g>
</g>
<g id="f3_text_13">
<text style="font-size: 9.60px; font-family: 'DejaVu Sans', 'Liberation Sans', sans-serif; text-anchor: end" x="42.6876" y="143.3484">0.20</text>
</g>
</g>
<g id="f3_ytick_6">
<g id="f3_line2d_13">
<g>
<use href="#f3_m5d545ce8f8" x="49.687606" y="103.931315" style="stroke: #000000; stroke-width: 0.8"/>
</g>
</g>
<g id="f3_text_14">
<text style="font-size: 9.60px; font-family: 'DejaVu Sans', 'Liberation Sans', sans-serif; text-anchor: end" x="42.6876" y="107.7305">0.25</text>
</g>
</g>
<g id="f3_ytick_7">
<g id="f3_line2d_14">
<g>
<use href="#f3_m5d545ce8f8" x="49.687606" y="68.313492" style="stroke: #000000; stroke-width: 0.8"/>
</g>
</g>
<g id="f3_text_15">
<text style="font-size: 9.60px; font-family: 'DejaVu Sans', 'Liberation Sans', sans-serif; text-anchor: end" x="42.6876" y="72.1127">0.30</text>
</g>
</g>
<g id="f3_ytick_8">
<g id="f3_line2d_15">
<g>
<use href="#f3_m5d545ce8f8" x="49.687606" y="32.695669" style="stroke: #000000; stroke-width: 0.8"/>
</g>
</g>
<g id="f3_text_16">
<text style="font-size: 9.60px; font-family: 'DejaVu Sans', 'Liberation Sans', sans-serif; text-anchor: end" x="42.6876" y="36.4949">0.35</text>
</g>
</g>
<g id="f3_text_17">
<text style="font-size: 10px; font-family: 'DejaVu Sans', 'Liberation Sans', sans-serif; text-anchor: middle" x="14.1312" y="149.7910" transform="rotate(-90 14.1312 149.7910)">Density</text>
</g>
</g>
<g id="f3_line2d_16">
<path d="M 65.856214 281.140893 
L 67.583078 280.550208 
L 69.094083 279.773693 
L 70.389231 278.849441 
L 71.684378 277.62241 
L 72.979526 276.026025 
L 74.058815 274.363749 
L 75.353963 271.912378 
L 76.64911 268.905965 
L 77.944258 265.297718 
L 79.239405 261.062062 
L 80.750411 255.333316 
L 82.477274 247.834204 
L 84.635853 237.363542 
L 89.816444 211.664454 
L 91.327449 205.406056 
L 92.622597 200.898694 
L 93.701886 197.840175 
L 94.781176 195.458301 
L 95.644608 194.046848 
L 96.508039 193.065255 
L 97.155613 192.598931 
L 97.803187 192.349988 
L 98.450761 192.302631 
L 99.098334 192.438526 
L 99.961766 192.869328 
L 101.041056 193.734935 
L 102.336203 195.11228 
L 107.732651 201.299013 
L 109.027799 202.276785 
L 110.107088 202.849238 
L 111.186378 203.190259 
L 112.265668 203.295376 
L 113.344957 203.161976 
L 114.424247 202.786477 
L 115.503537 202.162729 
L 116.582826 201.28186 
L 117.662116 200.133617 
L 118.957263 198.390349 
L 120.252411 196.243294 
L 121.763416 193.246907 
L 123.49028 189.262542 
L 126.080575 182.609789 
L 128.886728 175.558939 
L 130.397733 172.313267 
L 131.692881 170.013651 
L 132.77217 168.485227 
L 133.85146 167.318882 
L 134.93075 166.497631 
L 136.010039 165.981969 
L 137.089329 165.714232 
L 138.384476 165.621771 
L 143.349209 165.54382 
L 145.076072 165.132442 
L 148.098083 164.086466 
L 149.824946 163.613997 
L 151.120094 163.458508 
L 152.415241 163.524362 
L 153.710389 163.818985 
L 155.221395 164.410047 
L 157.81169 165.744332 
L 159.970269 166.76557 
L 161.697132 167.325405 
L 163.423996 167.642982 
L 166.877722 168.170639 
L 168.17287 168.665298 
L 169.25216 169.335706 
L 170.331449 170.298436 
L 171.410739 171.588752 
L 172.490028 173.22009 
L 173.785176 175.612369 
L 175.296181 178.923792 
L 177.454761 184.31653 
L 181.987777 195.853187 
L 183.930498 200.115189 
L 185.87322 203.816702 
L 187.815941 207.041828 
L 190.190378 210.544358 
L 193.212389 214.589817 
L 195.802684 217.711826 
L 197.745405 219.744216 
L 199.688127 221.443304 
L 201.630848 222.819582 
L 204.221143 224.340885 
L 207.027296 226.052496 
L 208.75416 227.37741 
L 210.481023 229.008128 
L 212.207886 230.950717 
L 214.582323 234.010468 
L 219.978772 241.127262 
L 222.137351 243.534217 
L 224.29593 245.620965 
L 227.102083 247.996422 
L 231.850957 251.669494 
L 235.304684 254.126684 
L 237.894979 255.710004 
L 240.485274 257.028121 
L 249.335449 261.229484 
L 252.573318 263.245035 
L 257.53805 266.351072 
L 260.128345 267.694076 
L 262.71864 268.781699 
L 265.524793 269.71742 
L 268.97852 270.623473 
L 272.648105 271.350496 
L 276.533548 271.878021 
L 282.577569 272.653834 
L 285.167865 273.249197 
L 287.542302 274.021846 
L 290.348455 275.187192 
L 299.19863 279.103032 
L 301.788925 279.884335 
L 304.37922 280.426972 
L 307.185373 280.775696 
L 310.423242 280.941911 
L 314.956258 280.922361 
L 327.907733 280.740901 
L 359.854706 280.991106 
L 366.76216 281.294969 
L 379.066061 281.886499 
L 387.700378 282.004107 
L 389.427242 282.010666 
L 389.427242 282.010666 
" clip-path="url(#f3_p9970b5d9a2)" style="fill: none; stroke: #1f77b4; stroke-width: 1.5; stroke-linecap: square"/>
</g>
<g id="f3_line2d_17">
<path d="M 69.261229 279.289745 
L 70.192554 278.27731 
L 71.123879 276.947927 
L 72.055204 275.224676 
L 72.986529 273.019653 
L 73.917855 270.234875 
L 74.84918 266.764162 
L 75.780505 262.49612 
L 76.898095 256.164009 
L 78.015685 248.337737 
L 79.133275 238.859188 
L 80.43713 225.566273 
L 81.740985 209.813577 
L 83.231105 188.943089 
L 85.093755 159.308801 
L 90.49544 70.124541 
L 91.799295 53.436247 
L 92.73062 43.841851 
L 93.661945 36.483173 
L 94.407005 32.329312 
L 94.9658 30.261913 
L 95.524595 29.102679 
L 95.897125 28.832753 
L 96.269655 28.960489 
L 96.642185 29.479238 
L 97.014715 30.380058 
L 97.57351 32.422714 
L 98.31857 36.362277 
L 99.063631 41.56555 
L 99.994956 49.600247 
L 101.298811 63.064851 
L 103.347726 87.142694 
L 106.141701 119.755022 
L 107.818086 136.625514 
L 109.121941 147.728422 
L 110.425796 156.976281 
L 111.543386 163.486987 
L 112.660976 168.800743 
L 113.778566 173.041272 
L 114.709891 175.839824 
L 115.641216 178.02885 
L 116.572541 179.646779 
L 117.317601 180.545072 
L 118.062661 181.096451 
L 118.621456 181.282458 
L 119.180251 181.27248 
L 119.739046 181.065445 
L 120.297841 180.660736 
L 121.042901 179.814625 
L 121.787961 178.623953 
L 122.719286 176.672216 
L 123.836877 173.715329 
L 125.140732 169.588028 
L 129.797357 154.027397 
L 130.728682 151.873484 
L 131.473742 150.605834 
L 132.218802 149.795276 
L 132.777597 149.50737 
L 133.336392 149.502662 
L 133.895187 149.78329 
L 134.453982 150.345928 
L 135.199042 151.519049 
L 135.944102 153.143031 
L 136.875427 155.731625 
L 137.993017 159.495279 
L 139.855667 166.721358 
L 142.649642 177.598301 
L 144.139762 182.540921 
L 145.443617 186.160119 
L 146.747472 189.140707 
L 148.051327 191.605101 
L 149.913978 194.603885 
L 152.707953 199.081663 
L 154.384338 202.209161 
L 156.619518 206.91766 
L 159.786023 213.621095 
L 161.276143 216.280767 
L 162.579998 218.189126 
L 163.883853 219.69226 
L 165.187708 220.847915 
L 166.864093 222.016592 
L 169.099273 223.571677 
L 170.403128 224.769158 
L 171.520718 226.084047 
L 172.638308 227.709409 
L 173.942164 230.004839 
L 175.432284 233.092359 
L 177.667464 238.314601 
L 180.833969 245.68926 
L 182.510354 249.0447 
L 184.000474 251.54341 
L 185.304329 253.334698 
L 186.608184 254.775301 
L 187.912039 255.902523 
L 189.215894 256.759926 
L 190.706014 257.458086 
L 192.196134 257.889392 
L 193.499989 258.055363 
L 194.803844 258.01616 
L 196.107699 257.758853 
L 197.411554 257.275298 
L 198.901675 256.454966 
L 200.57806 255.248988 
L 205.42095 251.520548 
L 206.53854 250.99228 
L 207.65613 250.713966 
L 208.587455 250.700437 
L 209.51878 250.898114 
L 210.450105 251.308246 
L 211.567695 252.067634 
L 212.87155 253.278403 
L 214.36167 254.991545 
L 216.96938 258.405553 
L 219.57709 261.704035 
L 221.43974 263.707535 
L 223.116125 265.205311 
L 224.978776 266.574232 
L 227.400221 268.05578 
L 236.154676 272.929307 
L 238.762386 274.119339 
L 240.997566 274.903039 
L 243.605276 275.56746 
L 247.516841 276.288972 
L 254.967442 277.43865 
L 258.320212 277.724381 
L 262.604307 277.835208 
L 270.613702 278.02569 
L 275.270328 278.060799 
L 285.887433 277.911829 
L 289.053938 278.271483 
L 299.484779 279.676045 
L 305.072729 279.99421 
L 312.523329 280.214633 
L 325.18935 280.409149 
L 329.845975 280.881961 
L 337.296575 281.646895 
L 342.32573 281.903354 
L 348.472476 282.002391 
L 348.472476 282.002391 
" clip-path="url(#f3_p9970b5d9a2)" style="fill: none; stroke: #ff7f0e; stroke-width: 1.5; stroke-linecap: square"/>
</g>
<g id="f3_patch_3">
<path d="M 49.687606 282.020432 
L 49.687606 15.450861 
" style="fill: none; stroke: #000000; stroke-width: 0.8; stroke-linejoin: miter; stroke-linecap: square"/>
</g>
<g id="f3_patch_4">
<path d="M 406.830463 282.020432 
L 406.830463 15.450861 
" style="fill: none; stroke: #000000; stroke-width: 0.8; stroke-linejoin: miter; stroke-linecap: square"/>
</g>
<g id="f3_patch_5">
<path d="M 49.687606 282.020432 
L 406.830463 282.020432 
" style="fill: none; stroke: #000000; stroke-width: 0.8; stroke-linejoin: miter; stroke-linecap: square"/>
</g>
<g id="f3_patch_6">
<path d="M 49.687606 15.450861 
L 406.830463 15.450861 
" style="fill: none; stroke: #000000; stroke-width: 0.8; stroke-linejoin: miter; stroke-linecap: square"/>
</g>
<g id="f3_legend_1">
<g id="f3_patch_7">
<path d="M 285.579213 53.657111 
L 399.830463 53.657111 
Q 401.830463 53.657111 401.830463 51.657111 
L 401.830463 22.450861 
Q 401.830463 20.450861 399.830463 20.450861 
L 285.579213 20.450861 
Q 283.579213 20.450861 283.579213 22.450861 
L 283.579213 51.657111 
Q 283.579213 53.657111 285.579213 53.657111 
z
" style="fill: #ffffff; opacity: 0.8; stroke: #cccccc; stroke-width: 0.7; stroke-linejoin: miter"/>
</g>
<g id="f3_line2d_18">
<path d="M 287.789213 28.759299 
L 297.789213 28.759299 
L 307.789213 28.759299 
" style="fill: none; stroke: #1f77b4; stroke-width: 1.5; stroke-linecap: square"/>
</g>
<g id="f3_text_18">
<text style="font-size: 10px; font-family: 'DejaVu Sans', 'Liberation Sans', sans-serif; text-anchor: start" x="315.789213" y="32.259299" transform="rotate(-0 315.789213 32.259299)">Readmission</text>
</g>
<g id="f3_line2d_19">
<path d="M 287.789213 43.867424 
L 297.789213 43.867424 
L 307.789213 43.867424 
" style="fill: none; stroke: #ff7f0e; stroke-width: 1.5; stroke-linecap: square"/>
</g>
<g id="f3_text_19">
<text style="font-size: 10px; font-family: 'DejaVu Sans', 'Liberation Sans', sans-serif; text-anchor: start" x="315.789213" y="47.367424" transform="rotate(-0 315.789213 47.367424)">NO Readmission</text>
</g>
</g>
</g>
</g>
<defs>
<clipPath id="f3_p9970b5d9a2">
<rect x="49.687606" y="15.450861" width="357.142857" height="266.569571"/>
</clipPath>
</defs>
</svg>

</div></body></html>
